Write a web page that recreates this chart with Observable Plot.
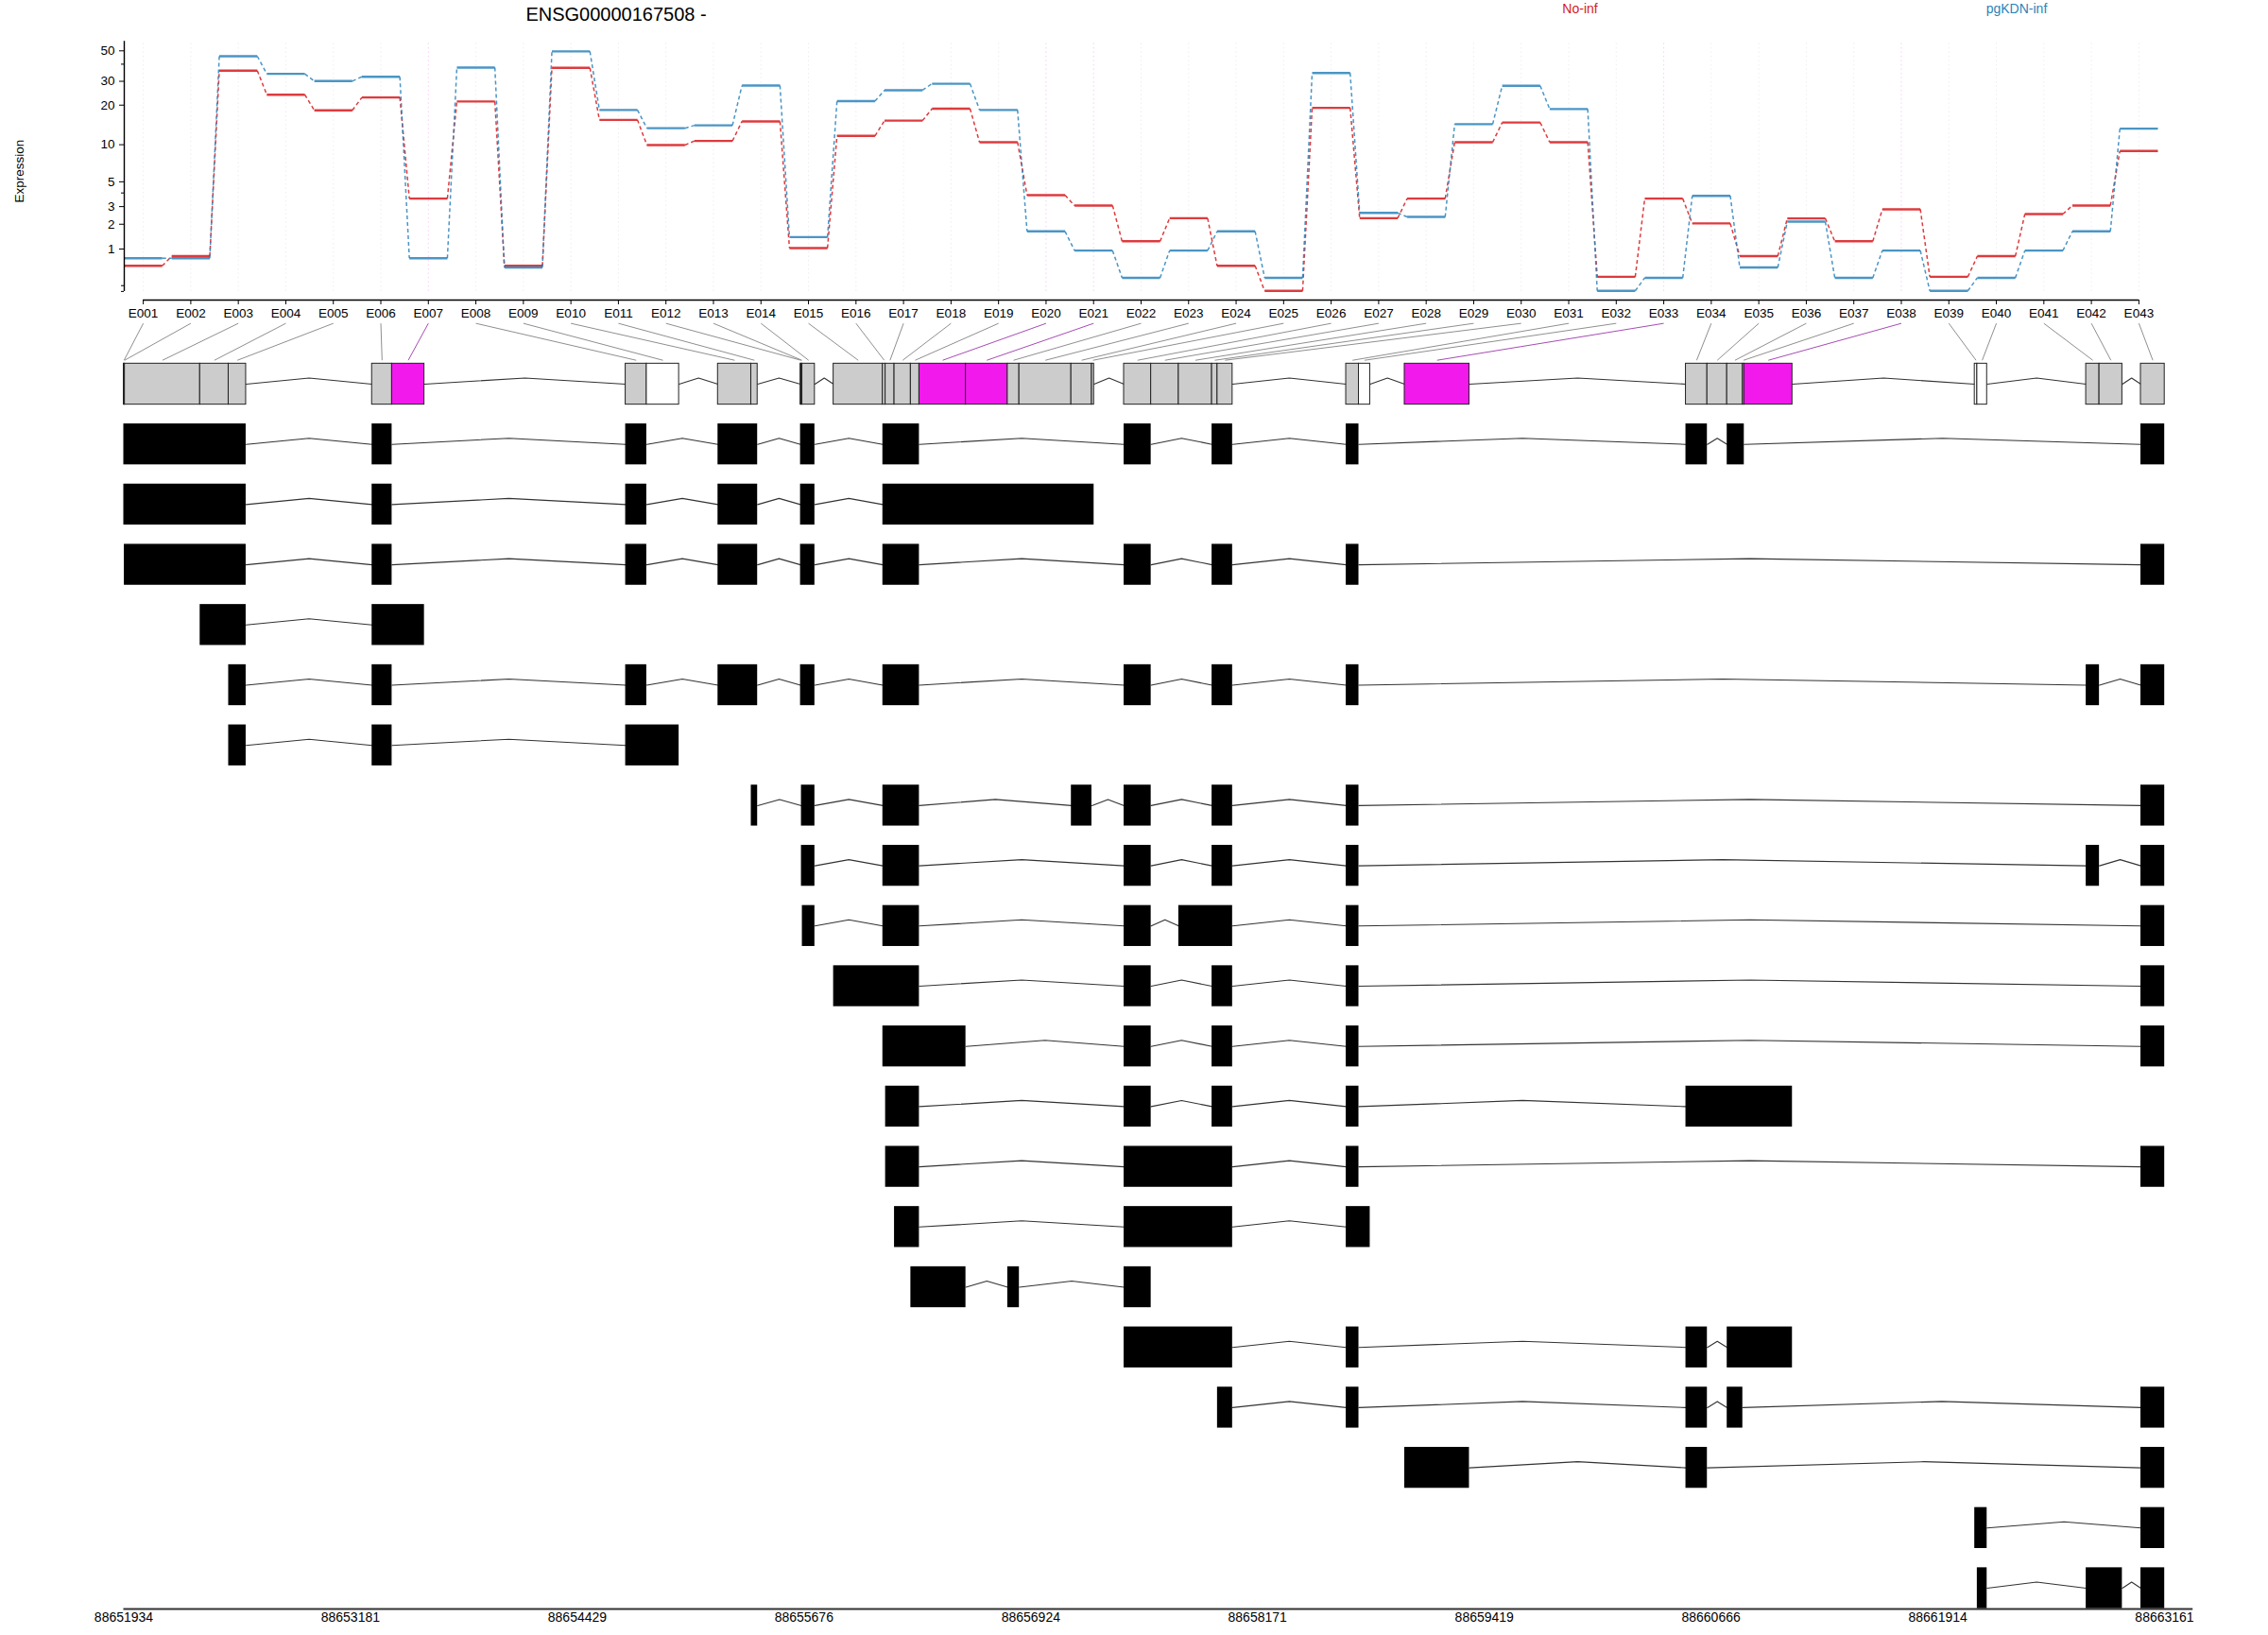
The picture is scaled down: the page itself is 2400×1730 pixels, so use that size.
<!DOCTYPE html>
<html><head><meta charset="utf-8">
<script src="https://cdn.jsdelivr.net/npm/d3@7"></script>
<script src="https://cdn.jsdelivr.net/npm/@observablehq/plot@0.6"></script>
<style>
body{margin:0;background:#fff;font-family:"Liberation Sans",Arial,Helvetica,sans-serif;}
#wrap{position:relative;width:2400px;height:1730px;overflow:hidden;background:#fff;}
#wrap svg{position:absolute;left:0;}
.lbl{position:absolute;white-space:nowrap;transform:translate(-50%,-50%);line-height:1;}
</style></head><body><div id="wrap"></div>
<script>
// ---------------- data ----------------
const geneTitle = "ENSG00000167508 -";
const conditions = ["No-inf", "pgKDN-inf"];
const condColors = ["#D7191C", "#2B83BA"];
const exonIds = ["E001","E002","E003","E004","E005","E006","E007","E008","E009","E010",
  "E011","E012","E013","E014","E015","E016","E017","E018","E019","E020",
  "E021","E022","E023","E024","E025","E026","E027","E028","E029","E030",
  "E031","E032","E033","E034","E035","E036","E037","E038","E039","E040",
  "E041","E042","E043"];
const noInf = [0.52,0.78,35.9,23.9,18.3,22.8,3.56,21.3,0.52,37.6,
  15.5,9.93,10.7,15.1,1.03,11.7,15.3,18.8,10.46,3.82,
  3.07,1.27,2.31,0.52,0.01,19.1,2.31,3.56,10.46,14.8,
  10.46,0.27,3.56,2.04,0.78,2.3,1.27,2.83,0.27,0.78,
  2.54,3.07,8.92];
const pgKDN = [0.72,0.72,45.7,34.0,30.1,32.4,0.72,37.8,0.48,49.5,
  18.4,13.4,14.1,27.9,1.43,21.4,25.8,28.8,18.4,1.67,
  0.95,0.25,0.95,1.67,0.25,34.5,2.61,2.38,14.4,27.8,
  18.7,0.01,0.25,3.77,0.48,2.13,0.25,0.95,0.01,0.25,
  0.95,1.67,13.3];
const binStart = [88651934,88651937,88651940,88652354,88652511,88653300,88653410,88654695,88654811,88655203,
  88655386,88655657,88655662,88655667,88655839,88656110,88656125,88656174,88656264,88656311,
  88656567,88656797,88656861,88657147,88657260,88657437,88657586,88657738,88657921,88657951,
  88658659,88658729,88658981,88660528,88660646,88660755,88660841,88660849,88662117,88662131,
  88662730,88662803,88663031];
const binEnd = [88651936,88651939,88652353,88652510,88652606,88653409,88653587,88654810,88654988,88655385,
  88655420,88655661,88655666,88655735,88656109,88656124,88656173,88656263,88656310,88656566,
  88656796,88656860,88657146,88657259,88657271,88657585,88657737,88657920,88657950,88658033,
  88658728,88658790,88659336,88660645,88660754,88660840,88660848,88661113,88662130,88662184,
  88662802,88662928,88663161];
const significant = ["E007","E020","E021","E033","E038"];
const untested = ["E009","E032","E039","E040"];
const transcripts = [
  [["E001","E005"],["E006"],["E008"],["E010","E011"],["E012","E014"],["E016","E019"],["E026"],["E029","E030"],["E031"],["E034"],["E036","E037"],["E043"]],
  [["E001","E005"],["E006"],["E008"],["E010","E011"],["E012","E014"],["E016","E025"]],
  [["E002","E005"],["E006"],["E008"],["E010","E011"],["E012","E014"],["E016","E019"],["E026"],["E029","E030"],["E031"],["E043"]],
  [["E004","E005"],["E006","E007"]],
  [["E005"],["E006"],["E008"],["E010","E011"],["E012","E014"],["E016","E019"],["E026"],["E029","E030"],["E031"],["E041"],["E043"]],
  [["E005"],["E006"],["E008","E009"]],
  [["E011"],["E013","E014"],["E016","E019"],["E024"],["E026"],["E029","E030"],["E031"],["E043"]],
  [["E013","E014"],["E016","E019"],["E026"],["E029","E030"],["E031"],["E041"],["E043"]],
  [["E014"],["E016","E019"],["E026"],["E028","E030"],["E031"],["E043"]],
  [["E015","E019"],["E026"],["E029","E030"],["E031"],["E043"]],
  [["E016","E020"],["E026"],["E029","E030"],["E031"],["E043"]],
  [["E017","E019"],["E026"],["E029","E030"],["E031"],["E034","E038"]],
  [["E017","E019"],["E026","E030"],["E031"],["E043"]],
  [["E018","E019"],["E026","E030"],["E031","E032"]],
  [["E019","E020"],["E022"],["E026"]],
  [["E026","E030"],["E031"],["E034"],["E036","E038"]],
  [["E030"],["E031"],["E034"],["E036"],["E043"]],
  [["E033"],["E034"],["E043"]],
  [["E039","E040"],["E043"]],
  [["E040"],["E041","E042"],["E043"]]
];
const genomeTicks = [88651934,88653181,88654429,88655676,88656924,88658171,88659419,88660666,88661914,88663161];
const yTickValues = [1,2,3,5,10,20,30,50];
const yMinorTicks = [0,0.1,4,40];

// ---------------- style / layout ----------------
const FONT = '"Liberation Sans", Arial, Helvetica, sans-serif';
const segHalf = 0.4;          // half width of exon segment in the expression panel
const yTop = 58.5, yFloor = -0.151;
const rowHalf = 0.34, peak = 0.102, connTop = -1.01, connBot = -0.397;
const yRowMin = -1.193, yRowMax = 20.345;
const axisOvershoot = 0.014;  // bottom axis line runs a little past the last label
const wrap = document.getElementById("wrap");

// ---------------- expression panel ----------------
const idx = d3.range(1, exonIds.length + 1);
const series = [noInf, pgKDN];
const segs = [], links = [];
series.forEach((vals, c) => {
  vals.forEach((v, i) => {
    segs.push({c, x1: i + 1 - segHalf, x2: i + 1 + segHalf, y: v});
    if (i < vals.length - 1) links.push({c, x1: i + 1 + segHalf, x2: i + 2 - segHalf, y1: v, y2: vals[i + 1]});
  });
});
const isSig = id => significant.includes(id);

const topPlot = Plot.plot({
  width: 2400, height: 350,
  marginLeft: 131, marginRight: 117, marginTop: 43.3, marginBottom: 33,
  x: {domain: [0.6, 43.4], axis: null},
  y: {type: "symlog", constant: 1, domain: [yFloor, yTop], axis: null},
  style: {fontFamily: FONT, fontSize: "13.5px", background: "none", color: "black", overflow: "visible"},
  marks: [
    Plot.ruleX(idx, {x: d => d, y1: () => 0, y2: () => yTop,
      stroke: d => isSig(exonIds[d - 1]) ? "#F219ED" : "#B3B3B3", strokeOpacity: 0.22, strokeDasharray: "1.5,3"}),
    Plot.link(links, {x1: "x1", x2: "x2", y1: "y1", y2: "y2", stroke: d => condColors[d.c], strokeOpacity: 0.85, strokeWidth: 1.5, strokeDasharray: "4,3"}),
    Plot.link(segs, {x1: "x1", x2: "x2", y1: "y", y2: "y", stroke: d => condColors[d.c], strokeOpacity: 0.85, strokeWidth: 2.4}),
    Plot.ruleX([0.6], {y1: () => 0, y2: () => yTop, stroke: "black", strokeWidth: 1.4}),
    Plot.ruleY([yFloor], {x1: () => 1, x2: () => exonIds.length, stroke: "black", strokeWidth: 1.4}),
    Plot.axisY({ticks: yTickValues, tickSize: 5, tickPadding: 5, tickFormat: d => String(d), label: null}),
    Plot.axisY({ticks: yMinorTicks, tickSize: 3, tickFormat: () => "", label: null}),
    Plot.axisX({ticks: idx, tickSize: 5, tickPadding: 4, tickFormat: i => exonIds[i - 1], label: null})
  ]
});
topPlot.style.top = "0px";
wrap.appendChild(topPlot);

// ---------------- gene model panel ----------------
const g0 = genomeTicks[0], g1 = genomeTicks[genomeTicks.length - 1];
const topX = Plot.scale({x: {domain: [0.6, 43.4], range: [131, 2283]}});
const botX = Plot.scale({x: {domain: [g0, g1], range: [130.5, 2290]}});
const pos = id => exonIds.indexOf(id);
const bins = exonIds.map((id, i) => ({id, start: binStart[i], end: binEnd[i] + 1,
  kind: isSig(id) ? "sig" : untested.includes(id) ? "untested" : "tested"}));
const conns = exonIds.map((id, i) => ({id, gTop: botX.invert(topX.apply(i + 1)), gBot: (binStart[i] + binEnd[i] + 1) / 2, sig: isSig(id)}));

// gene model introns between non-contiguous bins
const intronPts = [];
let iid = 0;
for (let i = 1; i < bins.length; i++) {
  if (binStart[i] > binEnd[i - 1] + 1) {
    const a = binEnd[i - 1] + 1, b = binStart[i];
    intronPts.push({id: iid, g: a, y: 0}, {id: iid, g: (a + b) / 2, y: -peak}, {id: iid, g: b, y: 0});
    iid++;
  }
}
const txExons = [];
transcripts.forEach((tx, t) => {
  const row = t + 1;
  const ex = tx.map(r => ({row, x1: binStart[pos(r[0])], x2: binEnd[pos(r[r.length - 1])] + 1}));
  ex.forEach((e, k) => {
    txExons.push(e);
    if (k < ex.length - 1) {
      const a = e.x2, b = ex[k + 1].x1;
      intronPts.push({id: iid, g: a, y: row}, {id: iid, g: (a + b) / 2, y: row - peak}, {id: iid, g: b, y: row});
      iid++;
    }
  });
});
const fillOf = {tested: "#CCCCCC", sig: "#F219ED", untested: "#FFFFFF"};

const botPlot = Plot.plot({
  width: 2400, height: 1400,
  marginLeft: 130.5, marginRight: 110, marginTop: 0, marginBottom: 28,
  x: {domain: [g0, g1], axis: null},
  y: {domain: [yRowMin, yRowMax], reverse: true, axis: null},
  style: {fontFamily: FONT, fontSize: "14px", background: "none", color: "black", overflow: "visible"},
  marks: [
    Plot.link(conns, {x1: "gTop", x2: "gBot", y1: () => connTop, y2: () => connBot,
      stroke: d => d.sig ? "#A64CB5" : "#8F8F8F", strokeWidth: 1}),
    Plot.line(intronPts, {x: "g", y: "y", z: "id", stroke: "#333", strokeWidth: 1.1}),
    Plot.rect(bins, {x1: "start", x2: "end", y1: () => -rowHalf, y2: () => rowHalf,
      fill: d => fillOf[d.kind], stroke: "#222", strokeWidth: 1}),
    Plot.rect(txExons, {x1: "x1", x2: "x2", y1: d => d.row - rowHalf, y2: d => d.row + rowHalf, fill: "black"}),
    Plot.ruleY([yRowMax], {x1: () => g0, x2: () => g1 + (g1 - g0) * axisOvershoot, stroke: "#333", strokeWidth: 2}),
    Plot.axisX({ticks: genomeTicks, tickSize: 0, tickPadding: 4, tickFormat: d => String(d), label: null})
  ]
});
botPlot.style.top = "330px";
wrap.appendChild(botPlot);

// ---------------- title, legend, y label ----------------
function label(text, x, y, size, color, rot) {
  const d = document.createElement("div");
  d.className = "lbl";
  d.textContent = text;
  d.style.left = x + "px"; d.style.top = y + "px";
  d.style.fontSize = size + "px"; d.style.color = color;
  if (rot) d.style.transform = "translate(-50%,-50%) rotate(-90deg)";
  wrap.appendChild(d);
}
label(geneTitle, 652, 15, 20, "black");
label(conditions[0], 1672, 9, 14, condColors[0]);
label(conditions[1], 2134, 9, 14, condColors[1]);
label("Expression", 21, 181, 13.5, "black", true);
</script></body></html>
